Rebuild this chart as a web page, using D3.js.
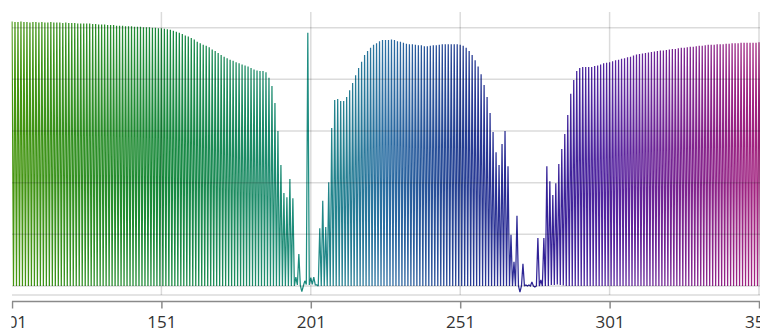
<!DOCTYPE html>
<html>
<head>
<meta charset="utf-8">
<script src="https://cdn.jsdelivr.net/npm/d3@7"></script>
<style>
html,body{margin:0;padding:0;background:#fff;overflow:hidden;}
svg{display:block;}
</style>
</head>
<body>
<svg id="chart" width="760" height="331"></svg>
<script>
// x positions 101..351 (one spike per position)
const xStart = 101, xEnd = 351;
const xTicks = [101, 151, 201, 251, 301, 351];
const yGrid = [0, 100, 200, 300, 400, 500];

// peak value at each x (101..351)
const peaks = [
  512, 511, 511, 512, 511, 511, 510, 511, 511, 510,   // 101-110
  511, 510, 510, 511, 510, 510, 510, 509, 510, 509,   // 111-120
  509, 509, 508, 508, 508, 508, 508, 507, 507, 506,   // 121-130
  506, 506, 505, 505, 505, 504, 504, 504, 503, 503,   // 131-140
  503, 502, 502, 502, 501, 501, 501, 500, 500, 499,   // 141-150
  499, 498, 497, 496, 494, 492, 490, 488, 485, 483,   // 151-160
  480, 477, 473, 470, 467, 465, 462, 458, 455, 451,   // 161-170
  447, 444, 441, 438, 436, 433, 431, 429, 427, 425,   // 171-180
  422, 419, 417, 416, 416, 414, 403, 387, 354, 300,   // 181-190
  234, 180, 172, 207, 170, 17, 62, -11, 10, 490,      // 191-200
  16, 17, 2, 112, 165, 114, 201, 306, 360, 362,       // 201-210
  358, 358, 366, 379, 393, 408, 422, 434, 447, 455,   // 211-220
  461, 467, 470, 474, 476, 476, 476, 477, 476, 474,   // 221-230
  473, 471, 469, 468, 468, 467, 466, 466, 464, 464,   // 231-240
  465, 466, 466, 467, 468, 468, 468, 468, 468, 468,   // 241-250
  467, 465, 461, 455, 447, 437, 425, 410, 389, 366,   // 251-260
  335, 298, 259, 234, 275, 300, 232, 99, 47, 136,     // 261-270
  -12, 43, 2, 2, 8, -2, 93, 12, 93, 232,              // 271-280
  203, 176, 199, 236, 265, 294, 331, 372, 399, 416,   // 281-290
  422, 424, 424, 424, 424, 426, 427, 429, 431, 432,   // 291-300
  433, 435, 437, 438, 440, 441, 443, 444, 446, 448,   // 301-310
  449, 450, 451, 452, 453, 454, 455, 456, 456, 457,   // 311-320
  458, 459, 459, 460, 461, 461, 462, 463, 463, 464,   // 321-330
  465, 465, 466, 467, 467, 467, 468, 468, 468, 469,   // 331-340
  469, 470, 470, 470, 471, 471, 471, 471, 471, 471,   // 341-350
  472                                                 // 351
];

// trough value following each peak (x + 0.5)
const troughs = [
  0,0,0,0,0,0,0,0,0,0,  0,0,0,0,0,0,0,0,0,0,
  0,0,0,0,0,0,0,0,0,0,  0,0,0,0,0,0,0,0,0,0,
  0,0,0,0,0,0,0,0,0,0,  0,0,0,0,0,0,0,0,0,0,
  0,0,0,0,0,0,0,0,0,0,  0,0,0,0,0,0,0,0,0,0,
  0,0,0,0,0,0,0,0,0,0,  0,0,0,0,0,2,1,0,3,2,   // 181-200
  3,2,0,0,0,0,0,0,0,0,  0,0,0,0,0,0,0,0,0,0,
  0,0,0,0,0,0,0,0,0,0,  0,0,0,0,0,0,0,0,0,0,
  0,0,0,0,0,0,0,0,0,0,  0,0,0,0,0,0,0,0,0,0,
  0,0,0,0,0,0,0,0,0,0,  0,0,0,0,0,0,0,0,0,0,
  2,2,3,2,1,0,0,0,0,0,  0,0,0,0,0,0,0,0,0,0,   // 271-290
  0,0,0,0,0,0,0,0,0,0,  0,0,0,0,0,0,0,0,0,0,
  0,0,0,0,0,0,0,0,0,0,  0,0,0,0,0,0,0,0,0,0,
  0,0,0,0,0,0,0,0,0,0,  0
];

// colour stops along x
const colorStopX = [101, 151, 201, 226, 251, 276, 301, 351];
const colorStops = ["#47960f", "#17893b", "#1f8d83", "#2b6ea3", "#253f93", "#2f2296", "#5424a0", "#a4237f"];

const svg = d3.select("#chart");
const x = d3.scaleLinear().domain([xStart, xEnd]).range([12, 759]);
const y = d3.scaleLinear().domain([-17.4, 530.4]).range([295, 12]);

const defs = svg.append("defs");
const grad = defs.append("linearGradient")
  .attr("id", "lineGrad")
  .attr("gradientUnits", "userSpaceOnUse")
  .attr("x1", x(xStart)).attr("x2", x(xEnd))
  .attr("y1", 0).attr("y2", 0);
colorStops.forEach((c, i) => {
  grad.append("stop")
    .attr("offset", (colorStopX[i] - xStart) / (xEnd - xStart))
    .attr("stop-color", c);
});
defs.append("clipPath").attr("id", "viewClip")
  .append("rect").attr("x", 11.4).attr("y", 0).attr("width", 760).attr("height", 331);

const root = svg.append("g").attr("clip-path", "url(#viewClip)");

// data points: peak at x, trough at x + 0.5
const xs = d3.range(xStart, xEnd + 1);
const pts = [];
xs.forEach((xv, i) => {
  pts.push([xv, peaks[i]]);
  pts.push([xv + 0.5, troughs[i]]);
});

const line = d3.line().x(d => x(d[0])).y(d => y(d[1]));

root.append("path")
  .datum(pts)
  .attr("d", line)
  .attr("fill", "none")
  .attr("stroke", "url(#lineGrad)")
  .attr("stroke-width", 1.25)
  .attr("stroke-linejoin", "miter")
  .attr("stroke-miterlimit", 2);

// grid (drawn over the data, translucent)
const grid = root.append("g");
grid.selectAll("line.h").data(yGrid).enter().append("line")
  .attr("x1", 12).attr("x2", 760)
  .attr("y1", d => y(d)).attr("y2", d => y(d))
  .attr("stroke", "rgba(0,0,0,0.14)").attr("stroke-width", 1.5);
grid.selectAll("line.v").data(xTicks.slice(1)).enter().append("line")
  .attr("x1", d => x(d)).attr("x2", d => x(d))
  .attr("y1", 12).attr("y2", 295)
  .attr("stroke", "rgba(0,0,0,0.14)").attr("stroke-width", 1.5);
grid.append("line")
  .attr("x1", 12).attr("x2", 760).attr("y1", 295).attr("y2", 295)
  .attr("stroke", "rgba(0,0,0,0.14)").attr("stroke-width", 1.5);

// x axis
const axis = d3.axisBottom(x).tickValues(xTicks).tickSize(7).tickSizeOuter(0)
  .tickFormat(d3.format("d"));
const ag = root.append("g").attr("transform", "translate(0,301.5)").call(axis);
ag.select(".domain").attr("stroke", "#8a8a8a").attr("stroke-width", 1.5)
  .attr("d", "M12,0H760");
ag.selectAll(".tick line").attr("stroke", "#8a8a8a").attr("stroke-width", 1.5);
ag.selectAll(".tick text")
  .attr("y", 26).attr("dy", 0)
  .attr("fill", "#333")
  .style("font-family", "'Open Sans', 'DejaVu Sans', sans-serif")
  .style("font-size", "17px");
</script>
</body>
</html>
